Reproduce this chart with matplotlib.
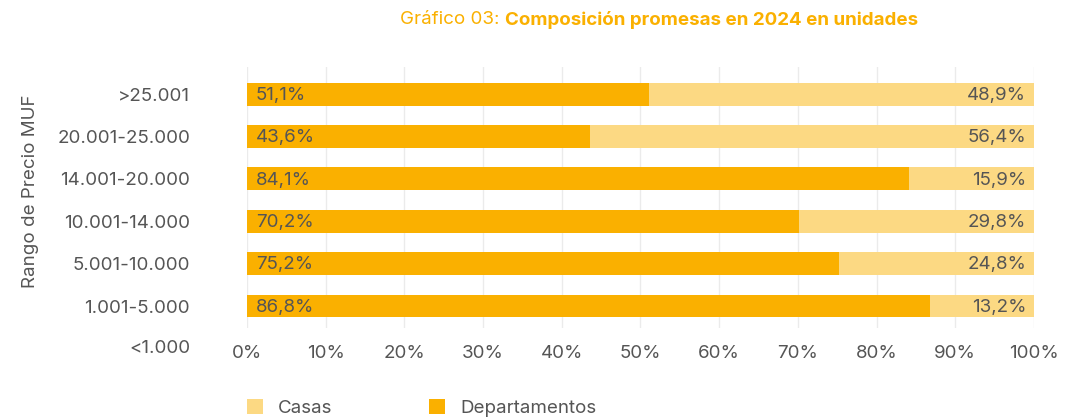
import matplotlib.pyplot as plt
import numpy as np

plt.rcParams['font.family'] = ['Inter', 'DejaVu Sans']

categorias = ['1.001-5.000', '5.001-10.000', '10.001-14.000', '14.001-20.000', '20.001-25.000', '>25.001']
departamentos = [86.8, 75.2, 70.2, 84.1, 43.6, 51.1]
casas = [13.2, 24.8, 29.8, 15.9, 56.4, 48.9]
sin_datos = '<1.000'

c_dep = '#FAB000'
c_cas = '#FCD983'
gris = '#555555'
fs = 13.5

fig = plt.figure(figsize=(10.81, 4.19), dpi=100)
ax = fig.add_axes([0.2285, 0.217, 0.728, 0.623])

y = np.arange(1, len(categorias) + 1)
ax.barh(y, departamentos, height=0.54, color=c_dep, label='Departamentos', zorder=2)
ax.barh(y, casas, left=departamentos, height=0.54, color=c_cas, label='Casas', zorder=2)

for yi, d, c in zip(y, departamentos, casas):
    ax.text(1.1, yi - 0.03, f'{d:.1f}%'.replace('.', ','), va='center', ha='left', fontsize=fs, color=gris, zorder=3)
    ax.text(99.0, yi - 0.03, f'{c:.1f}%'.replace('.', ','), va='center', ha='right', fontsize=fs, color=gris, zorder=3)

ax.set_xlim(0, 100)
ax.set_ylim(0.48, 6.64)
ax.set_xticks(np.arange(0, 101, 10))
ax.set_xticklabels([f'{v}%' for v in range(0, 101, 10)])
ax.set_yticks(y)
ax.set_yticklabels(categorias)
ax.tick_params(axis='x', length=0, pad=12, labelsize=fs, labelcolor=gris)
ax.tick_params(axis='y', length=0, pad=41, labelsize=fs, labelcolor=gris)
# categoria sin barra, queda a la altura de las etiquetas del eje x
ax.text(-57 / 787 * 100, 0, sin_datos, ha='right', va='center', fontsize=fs, color=gris,
        transform=ax.transData, clip_on=False)
ax.grid(axis='x', color='#EBEBEB', linewidth=1, zorder=0)
ax.set_axisbelow(True)
for s in ax.spines.values():
    s.set_visible(False)

fig.text(0.028, 0.544, 'Rango de Precio MUF', rotation=90, ha='center', va='center', fontsize=fs, color=gris)

fig.text(0.467, 0.953, 'Gráfico 03: ', ha='right', va='center', fontsize=13.5, color=c_dep)
fig.text(0.467, 0.953, 'Composición promesas en 2024 en unidades', ha='left', va='center',
         fontsize=13.5, color=c_dep, fontweight='bold')

h, l = ax.get_legend_handles_labels()
fig.legend(h[::-1], l[::-1], loc='lower left', bbox_to_anchor=(0.213, -0.035), ncol=2, frameon=False,
           fontsize=fs, labelcolor=gris, handlelength=0.85, handleheight=0.85, handletextpad=0.8,
           columnspacing=5.15)

fig.savefig('out.png', dpi=100)
